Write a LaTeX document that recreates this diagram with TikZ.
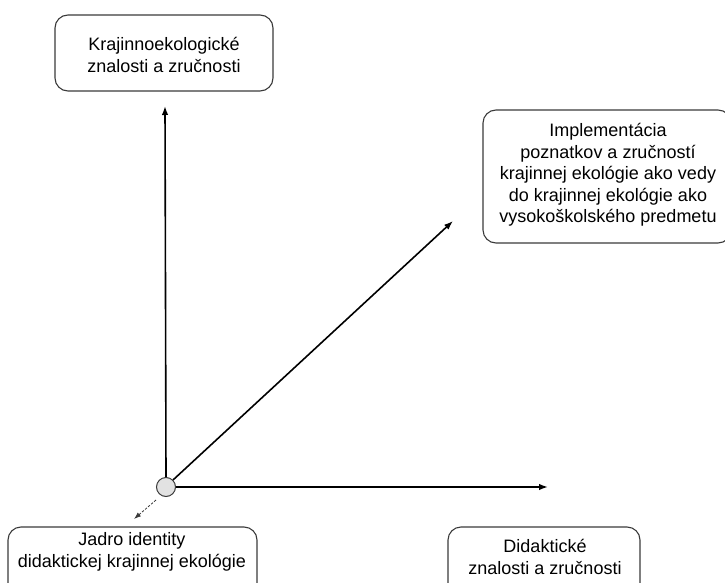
\documentclass[tikz,border=0pt]{standalone}
\usepackage{fontspec}
\setmainfont{Liberation Sans}
\usetikzlibrary{arrows.meta}
\definecolor{boxline}{HTML}{3A3A3A}
\definecolor{circfill}{HTML}{E2E2E2}
\tikzset{
  box/.style={draw=boxline, line width=1.1pt, rounded corners=13pt, rectangle, inner sep=0pt},
  label/.style={align=center, inner sep=0pt, font=\fontsize{18}{21.5}\selectfont},
  axis/.style={line width=1.6pt, -{Latex[length=9pt,width=6.5pt]}},
  dasharrow/.style={line width=0.8pt, draw=boxline, dash pattern=on 2.5pt off 1.5pt, -{Latex[length=7pt,width=5pt]}},
}
\begin{document}
\begin{tikzpicture}[x=1pt,y=-1pt]
\useasboundingbox (0,0) rectangle (725,583);
\clip (0,0) rectangle (725,583);
% boxes
\node[box, minimum width=218pt, minimum height=76pt] (kbox) at (164,53) {};
\node[label] (k) at (164,55) {Krajinnoekologické\\znalosti a zručnosti};
\node[box, minimum width=248pt, minimum height=133pt] (ibox) at (607,176.5) {};
\node[label] (i) at (608,175) {Implementácia\\poznatkov a zručností\\krajinnej ekológie ako vedy\\do krajinnej ekológie ako\\vysokoškolského predmetu};
\node[box, minimum width=249pt, minimum height=80pt] (jbox) at (132.5,567) {};
\node[label] (j) at (132,552) {Jadro identity\\didaktickej krajinnej ekológie};
\node[box, minimum width=192pt, minimum height=80pt] (dbox) at (544,567) {};
\node[label] (d) at (545,557) {Didaktické\\znalosti a zručnosti};
% origin
\node[circle, draw=boxline, fill=circfill, line width=1pt, minimum size=19pt, inner sep=0pt] (o) at (166,487) {};
\coordinate (up) at (165,106);
\coordinate (right) at (548,487);
\coordinate (diag) at (453,221);
\coordinate (dl) at (134,519);
\coordinate (dls) at (156,500);
\draw[axis] (o.north) -- (up);
\draw[axis] (o.east) -- (right);
\draw[axis] (o.45) -- (diag);
\draw[dasharrow] (dls) -- (dl);
\end{tikzpicture}
\end{document}
